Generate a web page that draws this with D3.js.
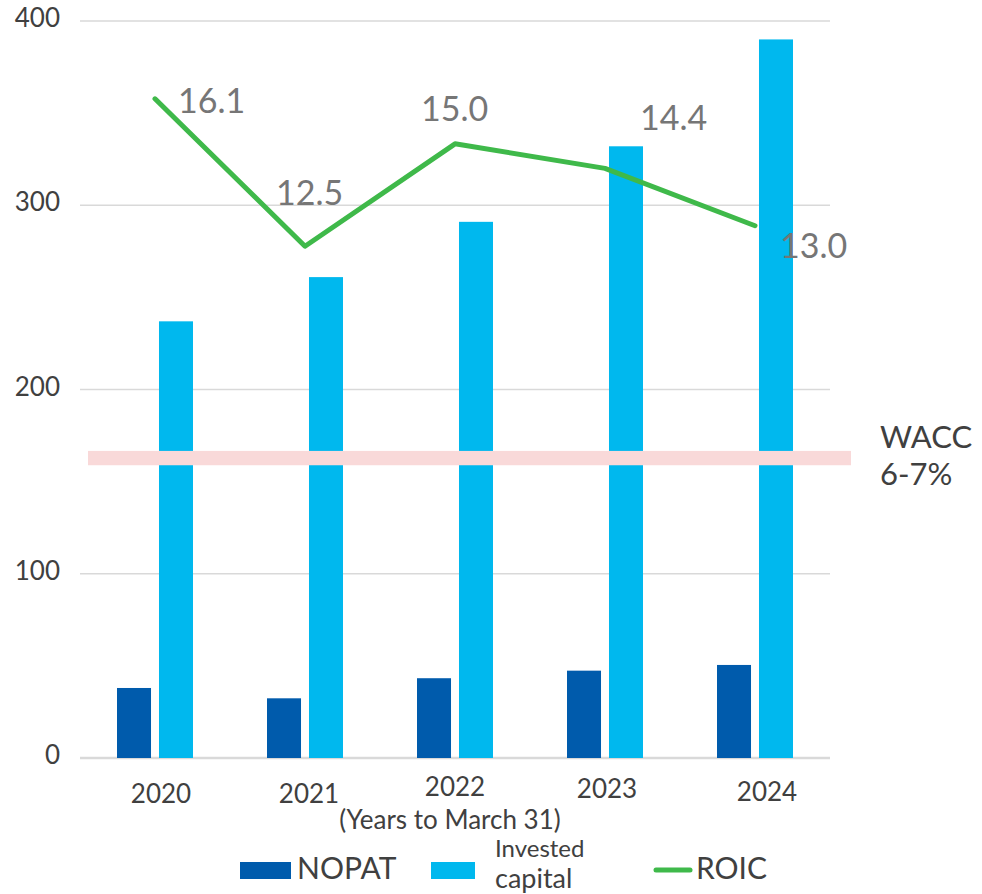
<!DOCTYPE html>
<html>
<head>
<meta charset="utf-8">
<script src="https://cdn.jsdelivr.net/npm/d3@7"></script>
<style>
  body { margin: 0; background: #fff; }
  text { font-family: Lato, "Open Sans", sans-serif; }
</style>
</head>
<body>
<div id="chart"></div>
<script>
// data
var years = ["2020", "2021", "2022", "2023", "2024"];
var nopat = [38, 32.4, 43.3, 47.4, 50.5];
var investedCapital = [237, 261, 291, 332, 390];
var roic = [16.1, 12.5, 15.0, 14.4, 13.0];
var yTicks = [0, 100, 200, 300, 400];
var waccBand = [7.15, 7.5]; // drawn on the ROIC scale
var waccLabel = ["WACC", "6-7%"];

function init() {
  var width = 982,
    height = 894;
  var margin = { top: 21, right: 152, bottom: 136, left: 80 };

  var svg = d3
    .select("#chart")
    .append("svg")
    .attr("width", width)
    .attr("height", height);

  var x = d3
    .scaleBand()
    .domain(years)
    .range([margin.left, width - margin.right]);

  var y = d3
    .scaleLinear()
    .domain([0, 400])
    .range([height - margin.bottom, margin.top]);

  // hidden secondary axis for ROIC
  var yRoic = d3
    .scaleLinear()
    .domain([0, 18])
    .range([height - margin.bottom, margin.top]);

  var sub = d3.scaleBand().domain(["nopat", "ic"]).range([0, 76]).paddingInner(0.19);

  // gridlines
  svg
    .append("g")
    .selectAll("line")
    .data(yTicks)
    .enter()
    .append("line")
    .attr("x1", margin.left)
    .attr("x2", width - margin.right)
    .attr("y1", function (d) { return y(d); })
    .attr("y2", function (d) { return y(d); })
    .attr("stroke", "#d9d9d9")
    .attr("stroke-width", function (d) { return d === 0 ? 2.5 : 1.5; });

  // y tick labels
  svg
    .append("g")
    .selectAll("text")
    .data(yTicks)
    .enter()
    .append("text")
    .attr("x", 60)
    .attr("y", function (d) { return y(d) + 6; })
    .attr("text-anchor", "end")
    .style("font-size", "26px")
    .style("fill", "#404040")
    .text(function (d) { return d; });

  var groups = svg
    .append("g")
    .selectAll("g")
    .data(years)
    .enter()
    .append("g")
    .attr("transform", function (d) {
      return "translate(" + (x(d) + x.bandwidth() / 2 - 38) + ",0)";
    });

  groups
    .append("rect")
    .attr("x", sub("nopat"))
    .attr("width", sub.bandwidth())
    .attr("y", function (d, i) { return y(nopat[i]); })
    .attr("height", function (d, i) { return y(0) - y(nopat[i]); })
    .attr("fill", "#005bac");

  groups
    .append("rect")
    .attr("x", sub("ic"))
    .attr("width", sub.bandwidth())
    .attr("y", function (d, i) { return y(investedCapital[i]); })
    .attr("height", function (d, i) { return y(0) - y(investedCapital[i]); })
    .attr("fill", "#00b8ee");

  // WACC band
  svg
    .append("rect")
    .attr("x", 88)
    .attr("width", 763)
    .attr("y", yRoic(waccBand[1]))
    .attr("height", yRoic(waccBand[0]) - yRoic(waccBand[1]))
    .attr("fill", "#f9d9d9");

  svg
    .append("g")
    .selectAll("text")
    .data(waccLabel)
    .enter()
    .append("text")
    .attr("x", 880)
    .attr("y", function (d, i) { return 448 + i * 37; })
    .style("font-size", "31px")
    .style("fill", "#404040")
    .text(function (d) { return d; });

  // ROIC line
  var line = d3
    .line()
    .x(function (d, i) { return x(years[i]) + x.bandwidth() / 2; })
    .y(function (d) { return yRoic(d); });

  svg
    .append("path")
    .datum(roic)
    .attr("d", line)
    .attr("fill", "none")
    .attr("stroke", "#3fb94a")
    .attr("stroke-width", 5)
    .attr("stroke-linecap", "round")
    .attr("stroke-linejoin", "round");

  // ROIC data labels (placement offsets as in the original)
  var labelOffset = [[23, 14], [-29, -41], [-34, -23], [35, -38], [25, 32]];
  svg
    .append("g")
    .selectAll("text")
    .data(roic)
    .enter()
    .append("text")
    .attr("x", function (d, i) { return x(years[i]) + x.bandwidth() / 2 + labelOffset[i][0]; })
    .attr("y", function (d, i) { return yRoic(d) + labelOffset[i][1]; })
    .style("font-size", "34px")
    .style("fill", "#767676")
    .text(function (d) { return d.toFixed(1); });

  // x labels (slightly staggered, as in the original)
  var xLabelShift = [[6, 803], [4, 803], [0, 796], [2, 798], [12, 801]];
  svg
    .append("g")
    .selectAll("text")
    .data(years)
    .enter()
    .append("text")
    .attr("x", function (d, i) { return x(d) + x.bandwidth() / 2 + xLabelShift[i][0]; })
    .attr("y", function (d, i) { return xLabelShift[i][1]; })
    .attr("text-anchor", "middle")
    .style("font-size", "26px")
    .style("fill", "#404040")
    .text(function (d) { return d; });

  svg
    .append("text")
    .attr("x", 450)
    .attr("y", 829)
    .attr("text-anchor", "middle")
    .style("font-size", "26px")
    .style("fill", "#404040")
    .text("(Years to March 31)");

  // legend
  var legend = svg.append("g");
  legend.append("rect").attr("x", 240).attr("y", 862).attr("width", 51).attr("height", 17).attr("fill", "#005bac");
  legend.append("text").attr("x", 297).attr("y", 879).style("font-size", "30px").style("fill", "#404040").text("NOPAT");
  legend.append("rect").attr("x", 431).attr("y", 862).attr("width", 44).attr("height", 17).attr("fill", "#00b8ee");
  legend.append("text").attr("x", 495).attr("y", 857).style("font-size", "24px").style("fill", "#404040").text("Invested");
  legend.append("text").attr("x", 495).attr("y", 888).style("font-size", "27px").style("fill", "#404040").text("capital");
  legend.append("line").attr("x1", 656).attr("x2", 690).attr("y1", 870).attr("y2", 870)
    .attr("stroke", "#3fb94a").attr("stroke-width", 5).attr("stroke-linecap", "round");
  legend.append("text").attr("x", 696).attr("y", 879).style("font-size", "30px").style("fill", "#404040").text("ROIC");
}

window.onload = init;
</script>
</body>
</html>
